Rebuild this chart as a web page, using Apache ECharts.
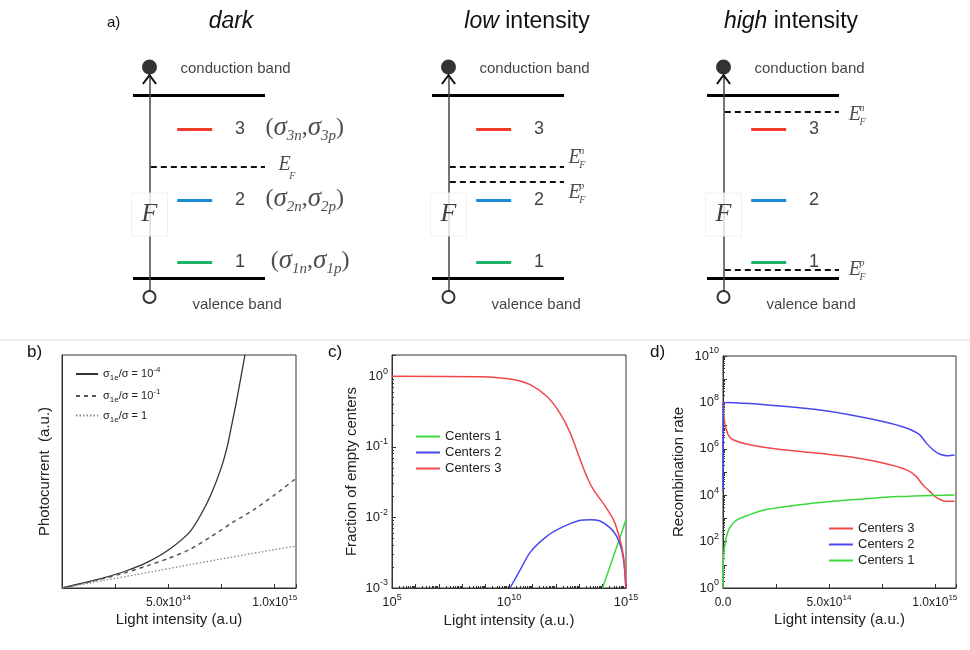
<!DOCTYPE html>
<html lang="en">
<head>
<meta charset="UTF-8">
<title>Band diagram and recombination centers</title>
<script src="https://cdn.jsdelivr.net/npm/echarts@6/dist/echarts.min.js"></script>
<style>html,body{margin:0;background:#fff}</style>
</head>
<body>
<div id="main" style="width:970px;height:650px;"></div>
<script>
// ---- a) band diagrams (energy: valence band = 0, conduction band = 1)
var levelE = [0.087, 0.426, 0.814];          // centers 1, 2, 3
var levelNames = ['1', '2', '3'];
var levelColors = ['#1db36a', '#1a8ad4', '#f03c2a'];
var fermiDark = [0.607];                      // E_F
var fermiLow = [0.607, 0.525];                // E_F^n, E_F^p
var fermiHigh = [0.907, 0.044];               // E_F^n, E_F^p

// ---- b) photocurrent vs light intensity
var photoA = [[0, 0], [1e14, 0.022], [2e14, 0.045], [3e14, 0.073], [4e14, 0.11], [5e14, 0.163],
  [6e14, 0.24], [6.5e14, 0.31], [7e14, 0.4], [7.5e14, 0.52], [7.8e14, 0.62], [8e14, 0.71],
  [8.2e14, 0.8], [8.4e14, 0.9], [8.6e14, 1.0]];
var photoB = [[0, 0], [1e14, 0.02], [2e14, 0.042], [3e14, 0.066], [4e14, 0.095], [5e14, 0.127],
  [6e14, 0.165], [7e14, 0.22], [8e14, 0.28], [9e14, 0.335], [1e15, 0.4], [1.1e15, 0.47]];
var photoC = [[0, 0], [2e14, 0.033], [4e14, 0.066], [6e14, 0.1], [8e14, 0.133], [1e15, 0.165], [1.1e15, 0.18]];

// ---- c) fraction of empty centers (log-log)
var emptyC1 = [[1e14, 0.001], [1e15, 0.0093]];
var emptyC2 = [[1.1e10, 0.001], [3e10, 0.0018], [8e10, 0.0032], [4.1e11, 0.0054], [2.1e12, 0.0074],
  [1.1e13, 0.0091], [2.9e13, 0.0093], [7.8e13, 0.0089], [2.1e14, 0.0071], [4e14, 0.0054],
  [6.5e14, 0.0035], [8.5e14, 0.002], [9.8e14, 0.001]];
var emptyC3 = [[1e5, 1], [5.9e8, 0.98], [1.5e10, 0.9], [8e10, 0.76], [4.1e11, 0.52], [1.5e12, 0.3],
  [4.1e12, 0.158], [1.1e13, 0.066], [2.1e13, 0.038], [4.1e13, 0.0245], [1.07e14, 0.0158],
  [2.9e14, 0.0093], [5.5e14, 0.0049], [7.8e14, 0.0028], [9.3e14, 0.0015], [9.9e14, 0.001]];

// ---- d) recombination rate
var rateC3 = [[0, 1e8], [8e12, 1.3e7], [2.4e13, 4.1e6], [4.7e13, 2.45e6], [1.26e14, 1.5e6], [2.83e14, 9.1e5],
  [4.4e14, 6.6e5], [5.97e14, 4.5e5], [7.55e14, 2.45e5], [8.65e14, 1.26e5], [9.12e14, 6.5e4],
  [9.43e14, 2.8e4], [9.75e14, 1.5e4], [1.006e15, 8.1e3], [1.053e15, 5.5e3], [1.093e15, 5.5e3]];
var rateC2 = [[0, 1.5e4], [2e12, 9e7], [1.6e13, 1e8], [1.26e14, 8.9e7], [2.83e14, 6.8e7], [4.4e14, 4.9e7],
  [5.97e14, 2.95e7], [7.55e14, 1.5e7], [8.65e14, 7.9e6], [9.28e14, 4.1e6], [9.59e14, 1.8e6],
  [9.91e14, 9.1e5], [1.022e15, 6e5], [1.061e15, 5e5], [1.093e15, 5.4e5]];
var rateC1 = [[0, 1], [3e12, 23], [1.3e13, 120], [3.1e13, 390], [6.3e13, 830], [1.26e14, 1450],
  [2.04e14, 2400], [3.62e14, 3900], [5.19e14, 5500], [6.76e14, 7100], [8.33e14, 8700],
  [9.91e14, 9800], [1.093e15, 1.02e4]];

var FONT = 'Liberation Sans';
var SERIF = 'Liberation Serif';
var RED = '#f04848', BLUE = '#4848f0', GREEN = '#3cd83c';

var myChart = echarts.init(document.getElementById('main'));

// text item drawn at a data point of a hidden diagram grid
function txt(x, y, text, style, pos) {
  return {
    value: [x, y], symbolSize: 1, itemStyle: {color: 'rgba(0,0,0,0)'},
    label: Object.assign({show: true, position: pos || 'right', distance: 0,
      formatter: function () { return text; }, color: '#111', fontFamily: FONT, fontSize: 15}, style)
  };
}

var serifIt = {fontFamily: SERIF, fontStyle: 'italic', color: '#222'};
var sigmaRich = {
  p: {fontFamily: SERIF, fontSize: 24, color: '#222', lineHeight: 30},
  g: {fontFamily: SERIF, fontStyle: 'italic', fontSize: 27, color: '#222', lineHeight: 30},
  sb: {fontFamily: SERIF, fontStyle: 'italic', fontSize: 15, color: '#222', verticalAlign: 'bottom', lineHeight: 14}
};

// fermi label: [level index, label x, label E, superscript]
var diagrams = [
  {fermi: fermiDark, labels: [[0, 1.098, 0.617, '']], sigma: true},
  {fermi: fermiLow, labels: [[0, 1.03, 0.656, 'n'], [1, 1.03, 0.464, 'p']], sigma: false},
  {fermi: fermiHigh, labels: [[0, 1.07, 0.89, 'n'], [1, 1.07, 0.044, 'p']], sigma: false}
];
var diagLeft = [93.4, 392.4, 667.4];

var grids = [], xAxes = [], yAxes = [], series = [];

diagrams.forEach(function (d, i) {
  grids.push({left: diagLeft[i], top: 40.1, width: 290.4, height: 283.65});
  xAxes.push({gridIndex: i, type: 'value', min: -0.3, max: 1.9, show: false});
  yAxes.push({gridIndex: i, type: 'value', min: -0.25, max: 1.3, show: false});

  var segs = [
    {coords: [[0, 1], [1, 1]], lineStyle: {width: 3, color: '#000'}},
    {coords: [[0, 0], [1, 0]], lineStyle: {width: 3, color: '#000'}},
    {coords: [[0.125, -0.07], [0.125, 1.108]], lineStyle: {width: 1.5, color: '#444'}}
  ];
  levelE.forEach(function (e, k) {
    segs.push({coords: [[0.335, e], [0.6, e]], lineStyle: {width: 3, color: levelColors[k]}});
  });
  d.fermi.forEach(function (e) {
    segs.push({coords: [[0.135, e], [1, e]], lineStyle: {width: 2, color: '#111', type: [6, 4]}});
  });
  series.push({type: 'lines', coordinateSystem: 'cartesian2d', xAxisIndex: i, yAxisIndex: i,
    z: 2, silent: true, lineStyle: {opacity: 1}, data: segs});
  series.push({type: 'lines', coordinateSystem: 'cartesian2d', xAxisIndex: i, yAxisIndex: i,
    polyline: true, z: 2, silent: true, lineStyle: {opacity: 1, width: 2, color: '#111'},
    data: [{coords: [[0.075, 1.06], [0.125, 1.108], [0.175, 1.06]]}]});

  var items = [
    {value: [0.125, 1.153], symbol: 'circle', symbolSize: 15, itemStyle: {color: '#000'}},
    {value: [0.125, -0.104], symbol: 'circle', symbolSize: 12,
      itemStyle: {color: '#fff', borderColor: '#000', borderWidth: 2}},
    {value: [0.125, 0.347], symbol: 'rect', symbolSize: [36, 43],
      itemStyle: {color: '#fff', borderColor: '#ececec', borderWidth: 1},
      label: {show: true, position: 'inside', formatter: 'F', fontFamily: SERIF, fontStyle: 'italic',
        fontSize: 26, color: '#111'}},
    txt(0.356, 1.142, 'conduction band', {fontSize: 15}),
    txt(0.447, -0.148, 'valence band', {fontSize: 15})
  ];
  levelE.forEach(function (e, k) {
    items.push(txt(0.81, e, levelNames[k], {fontSize: 18, align: 'center'}, 'inside'));
    if (d.sigma) {
      var n = levelNames[k];
      items.push(txt(k === 0 ? 1.04 : 1.0, e + 0.005,
        '{p|(}{g|σ}{sb|' + n + 'n}{p|,}{g|σ}{sb|' + n + 'p}{p|)}', {rich: sigmaRich}));
    }
  });
  d.labels.forEach(function (l) {
    items.push(txt(l[1], l[2], 'E', Object.assign({fontSize: 20}, serifIt)));
    if (l[3]) {
      items.push(txt(l[1] + 0.082, l[2] - 0.004, l[3] + '\nF',
        Object.assign({fontSize: 10, lineHeight: 14}, serifIt)));
    } else {
      items.push(txt(l[1] + 0.082, l[2] - 0.062, 'F', Object.assign({fontSize: 10}, serifIt)));
    }
  });
  series.push({type: 'scatter', xAxisIndex: i, yAxisIndex: i, z: 3, silent: true, data: items});
});

// ---- axes helpers for b, c, d
var tickRich = {
  b: {fontSize: 12, fontFamily: FONT, color: '#222', lineHeight: 18},
  s: {fontSize: 8, fontFamily: FONT, color: '#222', verticalAlign: 'top', lineHeight: 9}
};
var logRich = {
  b: {fontSize: 13, fontFamily: FONT, color: '#222', lineHeight: 19},
  s: {fontSize: 9, fontFamily: FONT, color: '#222', verticalAlign: 'top', lineHeight: 10}
};
function sciLabel(zero) {
  return function (v) {
    if (v === 0) return zero ? '{b|0.0}' : '';
    var e = Math.floor(Math.log10(v) + 1e-9);
    var m = v / Math.pow(10, e);
    if (Math.abs(m - Math.round(m)) > 1e-6) return '';
    return '{b|' + m.toFixed(1) + 'x10}{s|' + e + '}';
  };
}
function powLabel(step) {
  return function (v) {
    var e = Math.log10(v), r = Math.round(e);
    if (Math.abs(e - r) > 1e-6 || r % step !== 0) return '';
    return '{b|10}{s|' + r + '}';
  };
}
var axisLine = {lineStyle: {color: '#333', width: 1}};
var nameStyle = {fontSize: 15, fontFamily: FONT, color: '#222'};
var boxGrid = {show: true, borderColor: '#333', borderWidth: 1, backgroundColor: 'transparent'};
var tick = {inside: true, length: 4, lineStyle: {color: '#333'}};
var minor = {show: true, splitNumber: 9, length: 2, lineStyle: {color: '#333'}};

grids.push(Object.assign({left: 62, top: 355, width: 234, height: 233}, boxGrid));
grids.push(Object.assign({left: 392, top: 355, width: 234, height: 233}, boxGrid));
grids.push(Object.assign({left: 723, top: 356, width: 233, height: 232}, boxGrid));

// b
xAxes.push({gridIndex: 3, type: 'value', min: 0, max: 1.1e15, interval: 2.5e14, axisLine: axisLine,
  axisTick: tick, splitLine: {show: false},
  axisLabel: {formatter: sciLabel(false), rich: tickRich, margin: 6},
  name: 'Light intensity (a.u)', nameLocation: 'middle', nameGap: 24, nameTextStyle: nameStyle});
yAxes.push({gridIndex: 3, type: 'value', min: 0, max: 1, axisLine: axisLine, axisTick: {show: false},
  axisLabel: {show: false}, splitLine: {show: false},
  name: 'Photocurrent  (a.u.)', nameLocation: 'middle', nameGap: 10, nameTextStyle: nameStyle});
// c
xAxes.push({gridIndex: 4, type: 'log', logBase: 10, min: 1e5, max: 1e15, interval: 1, axisLine: axisLine,
  axisTick: tick, minorTick: minor,
  splitLine: {show: false}, axisLabel: {formatter: powLabel(5), rich: logRich, margin: 5},
  name: 'Light intensity (a.u.)', nameLocation: 'middle', nameGap: 25, nameTextStyle: nameStyle});
yAxes.push({gridIndex: 4, type: 'log', logBase: 10, min: 0.001, max: 2, axisLine: axisLine,
  axisTick: tick, minorTick: minor,
  splitLine: {show: false}, axisLabel: {formatter: powLabel(1), rich: logRich, margin: 4},
  name: 'Fraction of empty centers', nameLocation: 'middle', nameGap: 33, nameTextStyle: nameStyle});
// d
xAxes.push({gridIndex: 5, type: 'value', min: 0, max: 1.1e15, interval: 2.5e14, axisLine: axisLine,
  axisTick: tick, splitLine: {show: false},
  axisLabel: {formatter: sciLabel(true), rich: tickRich, margin: 6},
  name: 'Light intensity (a.u.)', nameLocation: 'middle', nameGap: 24, nameTextStyle: nameStyle});
yAxes.push({gridIndex: 5, type: 'log', logBase: 10, min: 1, max: 1e10, interval: 1, axisLine: axisLine,
  axisTick: tick, minorTick: minor,
  splitLine: {show: false}, axisLabel: {formatter: powLabel(2), rich: logRich, margin: 4},
  name: 'Recombination rate', nameLocation: 'middle', nameGap: 37, nameTextStyle: nameStyle});

function curve(name, grid, data, color, type, width) {
  return {name: name, type: 'line', xAxisIndex: grid, yAxisIndex: grid, data: data, showSymbol: false,
    symbol: 'none', smooth: 0.25, clip: true,
    lineStyle: {color: color, width: width || 1.5, type: type || 'solid'}, itemStyle: {color: color}};
}
series.push(curve('s4', 3, photoA, '#333', 'solid', 1.3));
series.push(curve('s1', 3, photoB, '#555', [4, 4], 1.5));
series.push(curve('s0', 3, photoC, '#888', [1.5, 2], 1.3));
series.push(curve('Centers 1', 4, emptyC1, GREEN));
series.push(curve('Centers 2', 4, emptyC2, BLUE));
series.push(curve('Centers 3', 4, emptyC3, RED));
series.push(curve('Centers 3', 5, rateC3, RED));
series.push(curve('Centers 2', 5, rateC2, BLUE));
series.push(curve('Centers 1', 5, rateC1, GREEN));

var legendNames = {
  s4: '{t|σ}{sb|1e}{t|/σ = 10}{sp|-4}',
  s1: '{t|σ}{sb|1e}{t|/σ = 10}{sp|-1}',
  s0: '{t|σ}{sb|1e}{t|/σ = 1}'
};
var legendRich = {
  t: {fontSize: 11, fontFamily: FONT, color: '#222', lineHeight: 16},
  sb: {fontSize: 8, fontFamily: FONT, color: '#222', verticalAlign: 'bottom', lineHeight: 9},
  sp: {fontSize: 8, fontFamily: FONT, color: '#222', verticalAlign: 'top', lineHeight: 9}
};
var centerLegendText = {fontSize: 13, fontFamily: FONT, color: '#222'};
var noSymbol = {opacity: 0};

var titleText = {fontWeight: 'normal', fontFamily: FONT, color: '#111'};
var italicRich = {i: {fontSize: 23, fontStyle: 'italic', fontFamily: FONT, color: '#111'}};

var option = {
  backgroundColor: '#fff',
  animation: false,
  title: [
    {text: 'a)', left: 107, top: 15, padding: 0, textStyle: Object.assign({fontSize: 15}, titleText)},
    {text: 'dark', left: 231, top: 10, padding: 0, textAlign: 'center',
      textStyle: Object.assign({fontSize: 23, fontStyle: 'italic'}, titleText)},
    {text: '{i|low} intensity', left: 527, top: 10, padding: 0, textAlign: 'center',
      textStyle: Object.assign({fontSize: 23, rich: italicRich}, titleText)},
    {text: '{i|high} intensity', left: 791, top: 10, padding: 0, textAlign: 'center',
      textStyle: Object.assign({fontSize: 23, rich: italicRich}, titleText)},
    {text: 'b)', left: 27, top: 344, padding: 0, textStyle: Object.assign({fontSize: 17}, titleText)},
    {text: 'c)', left: 328, top: 344, padding: 0, textStyle: Object.assign({fontSize: 17}, titleText)},
    {text: 'd)', left: 650, top: 344, padding: 0, textStyle: Object.assign({fontSize: 17}, titleText)}
  ],
  graphic: [{type: 'rect', shape: {x: 0, y: 339, width: 970, height: 2}, style: {fill: '#ececec'}, silent: true}],
  legend: [
    {data: ['s4', 's1', 's0'], orient: 'vertical', left: 75, top: 366, itemWidth: 22, itemHeight: 10,
      itemGap: 6, padding: 0, selectedMode: false, itemStyle: noSymbol,
      formatter: function (n) { return legendNames[n]; }, textStyle: {rich: legendRich}},
    {data: ['Centers 1', 'Centers 2', 'Centers 3'], orient: 'vertical', left: 415, top: 430,
      itemWidth: 24, itemHeight: 10, itemGap: 3, padding: 0, selectedMode: false, itemStyle: noSymbol,
      textStyle: centerLegendText},
    {data: ['Centers 3', 'Centers 2', 'Centers 1'], orient: 'vertical', left: 828, top: 522,
      itemWidth: 24, itemHeight: 10, itemGap: 3, padding: 0, selectedMode: false, itemStyle: noSymbol,
      textStyle: centerLegendText}
  ],
  grid: grids,
  xAxis: xAxes,
  yAxis: yAxes,
  series: series
};

myChart.setOption(option);
</script>
</body>
</html>
